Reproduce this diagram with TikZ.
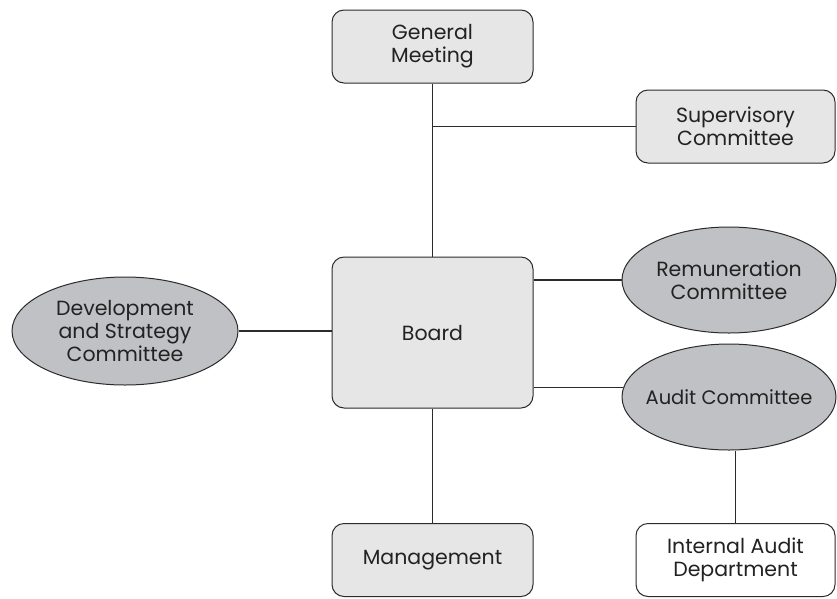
\documentclass[tikz,border=0pt]{standalone}
\usepackage{fontspec}
\setmainfont{Poppins}
\usetikzlibrary{shapes.geometric}
\definecolor{boxgray}{HTML}{E6E6E7}
\definecolor{ellgray}{HTML}{C0C1C4}
\definecolor{linec}{HTML}{2B2B2B}
\definecolor{textc}{HTML}{222222}
\begin{document}
\begin{tikzpicture}[x=1pt,y=-1pt,
  every node/.style={align=center, text=textc, font=\fontsize{20.5}{23}\selectfont, inner sep=0pt},
  boxnode/.style={draw=linec, line width=1pt, rounded corners=12pt, fill=boxgray, minimum width=201pt, minimum height=73pt},
  ellnode/.style={ellipse, draw=linec, line width=1pt, fill=ellgray, minimum width=214pt, minimum height=106pt},
  conn/.style={draw=linec, line width=1.1pt}]
\useasboundingbox (0,0) rectangle (837,598);
\node[boxnode] (gm) at (432.5,46.5) {General\\Meeting};
\node[boxnode, minimum width=199pt] (sup) at (735.5,126.5) {Supervisory\\Committee};
\node[boxnode, minimum height=151pt] (board) at (432.5,332.5) {Board};
\node[boxnode] (mgmt) at (432.5,560) {Management};
\node[boxnode, fill=white, minimum width=199pt] (iad) at (735.5,560) {Internal Audit\\Department};
\node[ellnode] (rem) at (729,280) {Remuneration\\Committee};
\node[ellnode, minimum width=226pt, minimum height=108pt] (dev) at (125,331) {Development\\and Strategy\\Committee};
\node[ellnode] (aud) at (729,397) {\makebox[120pt][c]{\fontsize{19.5}{23}\selectfont Audit Committee}};
\draw[conn] (gm.south) -- (board.north);
\draw[conn] (gm.south |- sup.west) -- (sup.west);
\draw[conn] (board.east |- rem.west) -- (rem.west);
\draw[conn] (board.east |- aud.175) -- (aud.175);
\draw[conn] (dev.east) -- (dev.east -| board.west);
\draw[conn] (board.south) -- (mgmt.north);
\draw[conn] (iad.north) -- (aud.south -| iad.north);
\end{tikzpicture}
\end{document}
